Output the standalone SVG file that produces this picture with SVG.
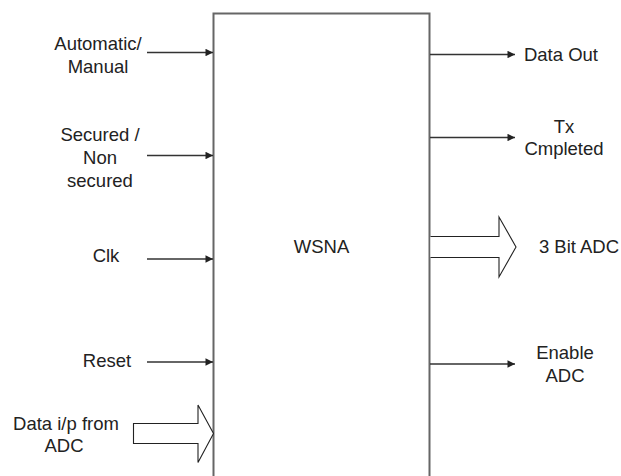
<svg xmlns="http://www.w3.org/2000/svg" width="621" height="476" viewBox="0 0 621 476">
  <style>
    .lbl { font-family: "Liberation Sans", Arial, Helvetica, sans-serif; font-size: 18.5px; fill: #222; text-anchor: middle; }
    .blk { fill: #fff; stroke: #666; stroke-width: 2; }
    .sig { fill: none; stroke: #333; stroke-width: 1.5; }
    .bus { fill: #fff; stroke: #222; stroke-width: 1.1; stroke-linejoin: miter; }
  </style>
  <defs>
    <marker id="head" viewBox="0 0 10 10" refX="10" refY="5" markerWidth="8" markerHeight="7.5" markerUnits="userSpaceOnUse" orient="auto">
      <path d="M0,0 L10,5 L0,10 Z" fill="#222"/>
    </marker>
  </defs>

  <rect width="621" height="476" fill="#fff"/>

  <!-- main block, open at the bottom edge -->
  <g id="wsna">
    <path class="blk" d="M213.5,480 V13.5 H429.5 V480" fill="#fff"/>
    <text class="lbl" x="321.5" y="253">WSNA</text>
  </g>

  <!-- signal lines and bus arrows -->
  <g id="connectors">
    <line class="sig" x1="147" y1="52.5" x2="213" y2="52.5" marker-end="url(#head)"/>
    <line class="sig" x1="147" y1="155.5" x2="213" y2="155.5" marker-end="url(#head)"/>
    <line class="sig" x1="147" y1="259" x2="213" y2="259" marker-end="url(#head)"/>
    <line class="sig" x1="147" y1="362" x2="213" y2="362" marker-end="url(#head)"/>
    <line class="sig" x1="430" y1="54.5" x2="515" y2="54.5" marker-end="url(#head)"/>
    <line class="sig" x1="430" y1="137.5" x2="515" y2="137.5" marker-end="url(#head)"/>
    <line class="sig" x1="430" y1="364" x2="515" y2="364" marker-end="url(#head)"/>
    <path class="bus" d="M133.5,423.5 H198 V405 L213.5,433.5 L198,462.5 V443.5 H133.5 Z"/>
    <path class="bus" d="M430.5,236.5 H499 V217 L516,247 L499,277 V257.5 H430.5"/>
  </g>

  <g id="in-mode">
    <text class="lbl" x="98" y="50">Automatic/</text>
    <text class="lbl" x="98" y="73">Manual</text>
  </g>
  <g id="in-security">
    <text class="lbl" x="100" y="141">Secured /</text>
    <text class="lbl" x="100" y="164">Non</text>
    <text class="lbl" x="100" y="187">secured</text>
  </g>
  <g id="in-clk">
    <text class="lbl" x="106" y="261.5">Clk</text>
  </g>
  <g id="in-reset">
    <text class="lbl" x="107" y="366.5">Reset</text>
  </g>
  <g id="in-data">
    <text class="lbl" x="66" y="430">Data i/p from</text>
    <text class="lbl" x="64" y="452">ADC</text>
  </g>
  <g id="out-data">
    <text class="lbl" x="561" y="61" >Data Out</text>
  </g>
  <g id="out-tx">
    <text class="lbl" x="564" y="132.5">Tx</text>
    <text class="lbl" x="564" y="155">Cmpleted</text>
  </g>
  <g id="out-adc">
    <text class="lbl" x="579" y="253">3 Bit ADC</text>
  </g>
  <g id="out-enable">
    <text class="lbl" x="565" y="358.5">Enable</text>
    <text class="lbl" x="565" y="381.5">ADC</text>
  </g>
</svg>
